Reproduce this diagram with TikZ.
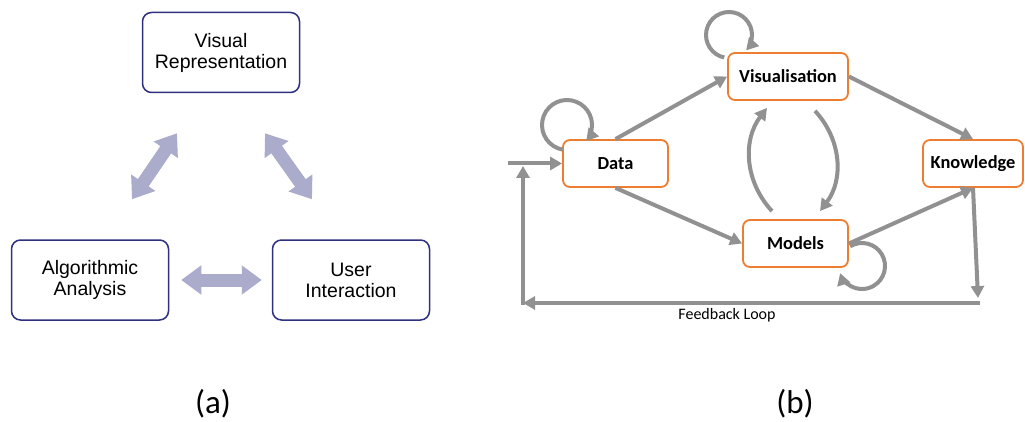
\documentclass[tikz,border=0pt]{standalone}
\usepackage{fontspec}
\setmainfont{Carlito}
\newfontfamily\arialfont{Liberation Sans}
\usetikzlibrary{arrows.meta,calc}
\definecolor{boxblue}{RGB}{48,48,128}
\definecolor{blockarrow}{RGB}{171,171,203}
\definecolor{flowgray}{RGB}{145,145,145}
\definecolor{accent}{RGB}{237,125,49}

\begin{document}
\begin{tikzpicture}[x=1pt,y=1pt,
  concept/.style={draw=boxblue, line width=1.5pt, rounded corners=9pt,
    minimum width=157pt, minimum height=80pt, align=center, inner sep=0pt,
    font=\arialfont\fontsize{19.5}{21}\selectfont},
  bothways/.style={color=blockarrow, line width=13pt,
    {Triangle[length=20pt,width=28pt]}-{Triangle[length=20pt,width=28pt]}},
  stage/.style={draw=accent, line width=1.8pt, rounded corners=7pt,
    minimum height=47pt, inner sep=0pt,
    font=\bfseries\fontsize{18.4}{20}\selectfont},
  flow/.style={color=flowgray, line width=4pt,
    -{Triangle[length=12pt,width=13pt]}},
  caption/.style={font=\fontsize{33}{36}\selectfont, anchor=base}
]
\useasboundingbox (0,0) rectangle (1025,-422);

% ---- (a) three-way relation ----
\node[concept] (vr)  at (221,-52.5) {Visual\\Representation};
\node[concept] (alg) at (90,-280)   {Algorithmic\\Analysis};
\node[concept] (ui)  at (351,-280)  {User\\Interaction};

\draw[bothways] ($(alg.east)+(12,0)$) -- ($(ui.west)+(-10,0)$);
\draw[bothways] ($(alg.north)+(42,40)$) -- ($(vr.south)+(-44,-40)$);
\draw[bothways] ($(vr.south)+(44,-40)$) -- ($(ui.north)+(-39,40)$);

\node[caption] (capa) at (213,-413) {(a)};

% ---- (b) process with feedback ----
\node[stage, minimum width=105pt] (data)   at (615.5,-163.5) {Data};
\node[stage, minimum width=120pt] (vis)    at (788,-76.5)    {Visualisation};
\node[stage, minimum width=105pt] (models) at (795.5,-243.5) {Models};
\node[stage, minimum width=100pt] (know)   at (973,-163.5)   {Knowledge};

\draw[flow] (data.north) -- (vis.west);
\draw[flow] (vis.east) -- (know.north);
\draw[flow] (data.south) -- (models.west);
\draw[flow] (models.east) -- (know.south);

\draw[flow] ($(models.north)+(-23.5,8)$) to[bend left=40] ($(vis.south)+(-21,-7)$);
\draw[flow] ($(vis.south)+(27,-10)$) to[bend left=40] ($(models.north)+(24.5,8)$);

% self loops
\coordinate (dataloop)   at (567,-125);
\coordinate (visloop)    at (729,-35);
\coordinate (modelsloop) at (862,-266);
\draw[flow] ([shift={(260:25pt)}]dataloop) arc[start angle=260, end angle=-40, radius=25pt];
\draw[flow] ([shift={(258:23pt)}]visloop) arc[start angle=258, end angle=-42, radius=23pt];
\draw[flow] ([shift={(121:23pt)}]modelsloop) arc[start angle=121, end angle=-162, radius=23pt];

% feedback loop
\coordinate (entry)   at (508,-163.5);
\coordinate (fbdrop)  at (978,-298);
\coordinate (fbright) at (980,-303);
\coordinate (fbleft)  at (523,-303);
\coordinate (fbcorner) at (523,-305);
\coordinate (fbup)    at (523,-166);
\draw[flow] (know.south) -- (fbdrop);
\draw[flow] (fbright) -- (fbleft);
\draw[flow] (fbcorner) -- (fbup);
\draw[flow] (entry) -- (data.west);
\node[font=\fontsize{16}{18}\selectfont, anchor=base] (fblabel) at (727,-319) {Feedback Loop};

\node[caption] (capb) at (795,-413) {(b)};
\end{tikzpicture}
\end{document}
